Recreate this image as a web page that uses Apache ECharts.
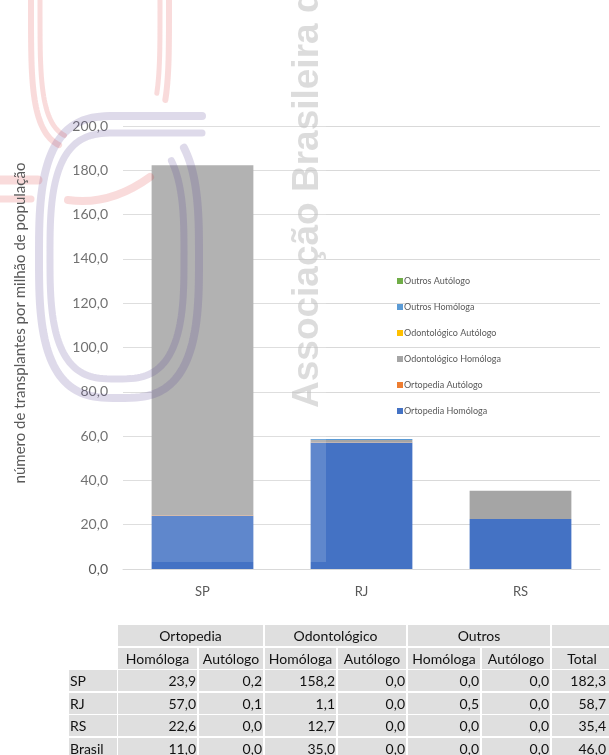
<!DOCTYPE html>
<html><head><meta charset="utf-8">
<script src="https://cdn.jsdelivr.net/npm/echarts@6/dist/echarts.min.js"></script>
<style>
html,body{margin:0;padding:0;background:#fff;}
#chart{position:absolute;left:0;top:0;width:609px;height:755px;}
</style></head><body>
<div id="chart"></div>
<script>
// ---- chart data ----
const categories = ['SP', 'RJ', 'RS'];
const seriesNames = ['Ortopedia Homóloga', 'Ortopedia Autólogo', 'Odontológico Homóloga', 'Odontológico Autólogo', 'Outros Homóloga', 'Outros Autólogo'];
const ortopediaHomologa = [23.9, 57.0, 22.6];
const ortopediaAutologo = [0.2, 0.1, 0.0];
const odontologicoHomologa = [158.2, 1.1, 12.7];
const odontologicoAutologo = [0.0, 0.0, 0.0];
const outrosHomologa = [0.0, 0.5, 0.0];
const outrosAutologo = [0.0, 0.0, 0.0];
const yMin = 0, yMax = 200, yInterval = 20;
const yAxisTitle = 'número de transplantes por milhão de população';
const watermarkText = 'Associação Brasileira de Transplante de Órgãos';

// ---- table data ----
const tableGroups = ['Ortopedia', 'Odontológico', 'Outros'];
const tableSubHeaders = ['Homóloga', 'Autólogo', 'Homóloga', 'Autólogo', 'Homóloga', 'Autólogo', 'Total'];
const tableRowLabels = ['SP', 'RJ', 'RS', 'Brasil'];
const rowSP = [23.9, 0.2, 158.2, 0.0, 0.0, 0.0, 182.3];
const rowRJ = [57.0, 0.1, 1.1, 0.0, 0.5, 0.0, 58.7];
const rowRS = [22.6, 0.0, 12.7, 0.0, 0.0, 0.0, 35.4];
const rowBrasil = [11.0, 0.0, 35.0, 0.0, 0.0, 0.0, 46.0];

const colors = ['#4472C4', '#ED7D31', '#A5A5A5', '#FFC000', '#5B9BD5', '#70AD47'];
const seriesData = [ortopediaHomologa, ortopediaAutologo, odontologicoHomologa, odontologicoAutologo, outrosHomologa, outrosAutologo];
const fmt = v => v.toFixed(1).replace('.', ',');

// decorative logo helpers
function superArc(cx, cy, a, b, n, t0, t1, steps) {
  const pts = [];
  for (let i = 0; i <= steps; i++) {
    const t = t0 + (t1 - t0) * i / steps;
    const c = Math.cos(t), s = Math.sin(t);
    pts.push([cx + a * Math.sign(c) * Math.pow(Math.abs(c), 2 / n), cy + b * Math.sign(s) * Math.pow(Math.abs(s), 2 / n)]);
  }
  return pts;
}
const lav = 'rgba(90,70,150,0.2)';
const pink = 'rgba(220,40,40,0.17)';
const outerL = superArc(119, 257, 80, 141, 3, -0.75, 1.5 * Math.PI, 140); outerL.push([202, 116]);
const innerL = superArc(117, 256, 67, 123, 3, -0.75, 1.5 * Math.PI, 140); innerL.push([202, 133]);
const pinkOutL = superArc(100, 0, 69, 150, 4, 1.93, Math.PI + 0.3, 40);
const pinkOutR = superArc(100, 0, 69, 150, 4, -0.3, 0.46, 20);
const pinkInL = superArc(100, 0, 60, 140, 4, 1.93, Math.PI + 0.3, 40);
const pinkInR = superArc(100, 0, 60, 140, 4, -0.3, 0.46, 20);

const font = 'Lato, sans-serif';
const graphics = [
  { type: 'rect', z: 100, silent: true, shape: { x: 0, y: 0, width: 326, height: 562 }, style: { fill: 'rgba(255,255,255,0.15)' } },
  { type: 'polyline', z: 101, silent: true, shape: { points: outerL }, style: { stroke: lav, lineWidth: 8, fill: null, lineCap: 'round' } },
  { type: 'polyline', z: 101, silent: true, shape: { points: innerL }, style: { stroke: lav, lineWidth: 7, fill: null, lineCap: 'round' } },
  { type: 'polyline', z: 101, silent: true, shape: { points: pinkOutL }, style: { stroke: pink, lineWidth: 6, fill: null, lineCap: 'round' } },
  { type: 'polyline', z: 101, silent: true, shape: { points: pinkOutR }, style: { stroke: pink, lineWidth: 6, fill: null, lineCap: 'round' } },
  { type: 'polyline', z: 101, silent: true, shape: { points: pinkInL }, style: { stroke: pink, lineWidth: 5, fill: null, lineCap: 'round' } },
  { type: 'polyline', z: 101, silent: true, shape: { points: pinkInR }, style: { stroke: pink, lineWidth: 5, fill: null, lineCap: 'round' } },
  { type: 'line', z: 101, silent: true, shape: { x1: -5, y1: 180, x2: 38, y2: 180 }, style: { stroke: pink, lineWidth: 9, lineCap: 'round' } },
  { type: 'line', z: 101, silent: true, shape: { x1: -5, y1: 199, x2: 31, y2: 199 }, style: { stroke: pink, lineWidth: 7, lineCap: 'round' } },
  { type: 'bezierCurve', z: 101, silent: true, shape: { x1: 68, y1: 200, cpx1: 110, cpy1: 206, x2: 150, y2: 177 }, style: { stroke: pink, lineWidth: 8, fill: null, lineCap: 'round' } },
  { type: 'text', z: 102, silent: true, x: 326, y: 408, rotation: Math.PI / 2,
    style: { text: watermarkText, fill: 'rgba(191,191,191,0.55)', font: 'bold 37px "Liberation Sans", Arial, sans-serif', align: 'left', verticalAlign: 'bottom', textAlign: 'left', textVerticalAlign: 'bottom' } },
  { type: 'text', z: 103, silent: true, x: 20, y: 323, rotation: Math.PI / 2,
    style: { text: yAxisTitle, fill: '#595959', font: '15px Lato, sans-serif', align: 'center', verticalAlign: 'middle', textAlign: 'center', textVerticalAlign: 'middle' } }
];

// ---- table (drawn as graphic cells) ----
const colL = [118, 199, 265, 338, 408, 482, 552];
const colR = [197, 263, 336, 406, 480, 550, 612];
const rowTop = [625, 648, 670, 693, 715, 738];
const rowH = 21;
function cell(l, r, t, text, align, grey) {
  if (grey) graphics.push({ type: 'rect', z: 110, silent: true, shape: { x: l, y: t, width: r - l, height: rowH }, style: { fill: '#DFDFDF' } });
  if (text === '') return;
  const x = align === 'right' ? Math.min(r, 607) - 1 : align === 'left' ? l + 1 : (l + r) / 2;
  graphics.push({ type: 'text', z: 111, silent: true, x: x, y: t + rowH / 2 + 0.5,
    style: { text: text, fill: '#111', font: '14px Lato, sans-serif', align: align, verticalAlign: 'middle', textAlign: align, textVerticalAlign: 'middle' } });
}
tableGroups.forEach((g, i) => cell(colL[2 * i], colR[2 * i + 1], rowTop[0], g, 'center', true));
cell(colL[6], colR[6], rowTop[0], '', 'center', true);
tableSubHeaders.forEach((h, i) => cell(colL[i], colR[i], rowTop[1], h, 'center', true));
const tableRows = [rowSP, rowRJ, rowRS, rowBrasil];
tableRows.forEach((row, ri) => {
  cell(69, 117, rowTop[ri + 2], tableRowLabels[ri], 'left', true);
  row.forEach((v, ci) => cell(colL[ci], colR[ci], rowTop[ri + 2], fmt(v), 'right', true));
});

const chart = echarts.init(document.getElementById('chart'));
chart.setOption({
  animation: false,
  backgroundColor: '#fff',
  grid: { left: 123, right: 9, top: 126, bottom: 186, containLabel: false },
  legend: {
    orient: 'vertical', left: 392, top: 270,
    itemWidth: 6, itemHeight: 6, itemGap: 14,
    icon: 'rect',
    data: seriesNames.slice().reverse(),
    textStyle: { fontFamily: font, fontSize: 9, color: '#595959', lineHeight: 12, padding: [0, 0, 0, -4] }
  },
  xAxis: {
    type: 'category', data: categories,
    axisLine: { lineStyle: { color: '#D9D9D9', width: 1 } },
    axisTick: { show: false },
    axisLabel: { fontFamily: font, fontSize: 13, color: '#595959', margin: 16 }
  },
  yAxis: {
    type: 'value', min: yMin, max: yMax, interval: yInterval,
    axisLine: { show: false }, axisTick: { show: false },
    splitLine: { lineStyle: { color: '#D9D9D9', width: 1 } },
    axisLabel: { fontFamily: font, fontSize: 14, color: '#595959', margin: 15, formatter: v => fmt(v) }
  },
  series: seriesNames.map((n, i) => ({
    name: n, type: 'bar', stack: 'total', barWidth: '64%',
    itemStyle: { color: colors[i] },
    data: seriesData[i]
  })),
  graphic: graphics
});
</script>
</body></html>
